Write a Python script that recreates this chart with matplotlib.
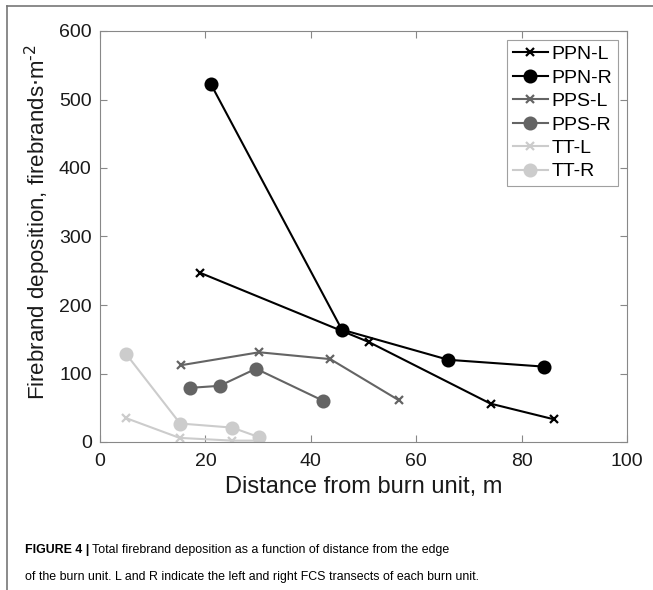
import matplotlib.pyplot as plt
from matplotlib.lines import Line2D

plt.rcParams['font.family'] = ['Liberation Sans', 'DejaVu Sans']

# --- data ---
ppn_l_x = [19.0, 51.0, 74.1, 86.2]
ppn_l_y = [247, 146, 56, 33]
ppn_r_x = [21.0, 45.9, 66.1, 84.3]
ppn_r_y = [523, 164, 120, 110]
pps_l_x = [15.3, 30.2, 43.7, 56.7]
pps_l_y = [112, 131, 121, 61]
pps_r_x = [17.0, 22.7, 29.6, 42.4]
pps_r_y = [79, 82, 107, 60]
tt_l_x = [4.9, 15.1, 25.1, 30.2]
tt_l_y = [35, 6, 2, 2]
tt_r_x = [4.9, 15.2, 25.1, 30.2]
tt_r_y = [129, 27, 21, 7]

series = [
    ('PPN-L', ppn_l_x, ppn_l_y, 'x', 'black'),
    ('PPN-R', ppn_r_x, ppn_r_y, 'o', 'black'),
    ('PPS-L', pps_l_x, pps_l_y, 'x', '#646464'),
    ('PPS-R', pps_r_x, pps_r_y, 'o', '#646464'),
    ('TT-L', tt_l_x, tt_l_y, 'x', '#cccccc'),
    ('TT-R', tt_r_x, tt_r_y, 'o', '#cccccc'),
]

fig = plt.figure(figsize=(6.53, 5.90), dpi=100)
ax = fig.add_axes([100 / 653, 1 - 442 / 590, 527 / 653, 411 / 590])

# draw light series first so dark ones sit on top
for name, xs, ys, mk, col in reversed(series):
    ms = 8.5 if mk == 'o' else 6
    ax.plot(xs, ys, marker=mk, color=col, lw=1.5, ms=ms, mew=1.6, label=name)

ax.set_xlim(0, 100)
ax.set_ylim(0, 600)
ax.set_xticks([0, 20, 40, 60, 80, 100])
ax.set_yticks([0, 100, 200, 300, 400, 500, 600])
ax.tick_params(direction='in', top=True, right=True, length=5, width=0.8,
               color='#888888', labelsize=14, labelcolor='#1a1a1a')
ax.tick_params(axis='x', pad=8)
ax.tick_params(axis='y', pad=6)
for s in ax.spines.values():
    s.set_color('#888888')
    s.set_linewidth(0.8)

ax.set_xlabel('Distance from burn unit, m', fontsize=17, color='#1a1a1a', labelpad=4)
ax.set_ylabel('Firebrand deposition, firebrands$\\cdot$m$^{\\text{-2}}$', fontsize=16,
              color='#1a1a1a')
ax.yaxis.set_label_coords(-0.09, 0.535)

handles, labels = ax.get_legend_handles_labels()
leg = ax.legend(handles[::-1], labels[::-1], loc='upper right', fontsize=14,
                frameon=True, fancybox=False, edgecolor='#888888',
                handlelength=1.8, handletextpad=0.2, labelspacing=0.3,
                borderpad=0.3, borderaxespad=0.45)
leg.get_frame().set_linewidth(0.8)

# page frame lines (top and left)
fig.add_artist(Line2D([7 / 653, 1], [1 - 6 / 590, 1 - 6 / 590], color='#777777', lw=1.2))
fig.add_artist(Line2D([7 / 653, 7 / 653], [0, 1 - 6 / 590], color='#777777', lw=1.2))

cap_size = 8.9
t1 = fig.text(25 / 653, 1 - 550 / 590, 'FIGURE 4 |', fontsize=cap_size, fontweight='bold',
              va='center', ha='left')
ax.annotate('Total firebrand deposition as a function of distance from the edge',
            xy=(1, 0.5), xycoords=t1, xytext=(2, 0), textcoords='offset points',
            fontsize=cap_size, va='center', ha='left', annotation_clip=False)
fig.text(25 / 653, 1 - 577 / 590,
         'of the burn unit. L and R indicate the left and right FCS transects of each burn unit.',
         fontsize=cap_size, va='center', ha='left')

fig.savefig('out.png', dpi=100)
